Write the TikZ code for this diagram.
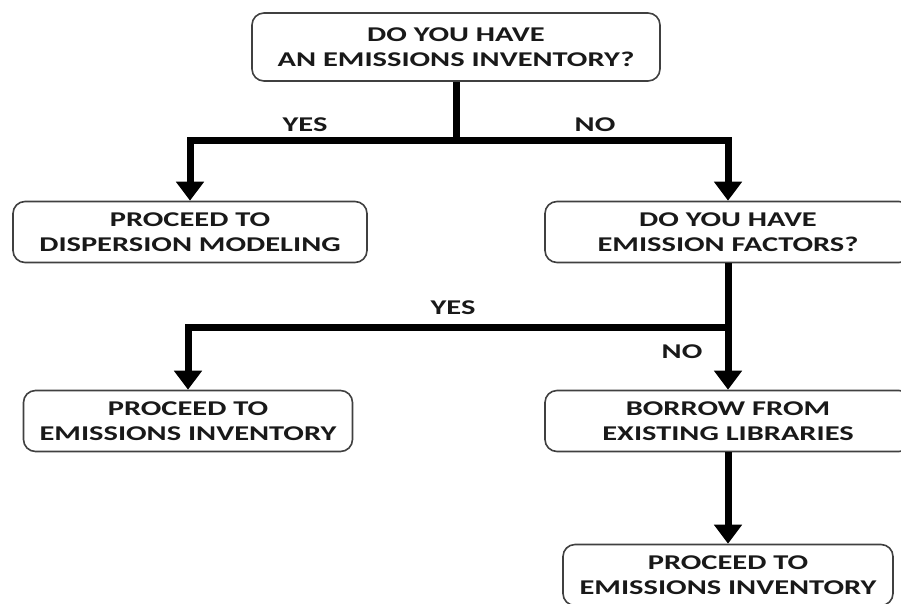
\documentclass[tikz,border=0pt]{standalone}
\usepackage{fontspec}
\setmainfont{Carlito}[FakeStretch=1.45]
\usetikzlibrary{arrows.meta,positioning}

\begin{document}
\begin{tikzpicture}[x=1pt,y=-1pt,>={Triangle[width=27pt,length=19pt]},
                    line width=7pt,font=\fontsize{21}{25.5}\selectfont\bfseries]
  \tikzstyle{box}=[draw=black!75,line width=1.6pt,rounded corners=12pt,fill=white,
                   align=center,inner xsep=10pt,inner ysep=3pt,minimum height=61pt,text=black!90]
  \tikzstyle{lbl}=[inner sep=0pt,text=black!90]
  \clip (0,0) rectangle (901,603);

  \node[box,minimum height=68pt,minimum width=408pt] (Q1) at (456,47)  {DO YOU HAVE\\AN EMISSIONS INVENTORY?};
  \node[box,minimum width=354pt] (DM) at (190,232)    {PROCEED TO\\DISPERSION MODELING};
  \node[box,minimum width=366pt] (Q2) at (728,232)    {DO YOU HAVE\\EMISSION FACTORS?};
  \node[box,minimum width=329pt] (EI) at (188,421)    {PROCEED TO\\EMISSIONS INVENTORY};
  \node[box,minimum width=366pt] (BL) at (728,421)    {BORROW FROM\\EXISTING LIBRARIES};
  \node[box,minimum width=330pt] (EI2) at (728,575)   {PROCEED TO\\EMISSIONS INVENTORY};

  \coordinate (J1) at (456,140);
  \coordinate (J2) at (728,327);

  \node[lbl] (Y1) at (305,125) {YES};
  \node[lbl] (N1) at (595,125) {NO};
  \node[lbl] (Y2) at (453,308) {YES};
  \node[lbl] (N2) at (682,352) {NO};

  \draw (Q1.south) -- (J1);
  \draw[->] (J1) -| (DM.north);
  \draw[->] (J1) -| (Q2.north);
  \draw[->] (Q2.south) -- (BL.north);
  \draw[->] (J2) -| (EI.north);
  \draw[->] (BL.south) -- (EI2.north);
\end{tikzpicture}
\end{document}
